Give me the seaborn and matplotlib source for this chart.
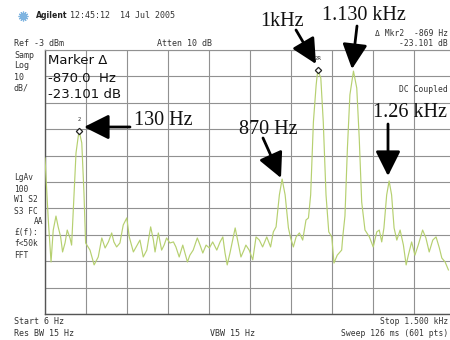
import numpy as np
import pandas as pd
import matplotlib
matplotlib.use("Agg")
import matplotlib.pyplot as plt
import seaborn as sns
from matplotlib.lines import Line2D

# ---- data ----
freq_hz = [6, 18, 28, 36, 46, 54, 63, 70, 79, 87, 97, 103, 109, 119, 130, 140, 148, 154,
           170, 185, 200, 213, 225, 237, 249, 257, 267, 279, 291, 304, 313, 328, 342, 352, 364,
           377, 391, 401, 407, 419, 431, 440, 449, 461, 474, 483, 495, 508, 525, 534, 546, 561,
           571, 581, 593, 605, 617, 632, 644, 654, 662, 670, 680, 690, 699, 710, 720, 731,
           738, 750, 763, 775, 787, 799, 814, 828, 838, 848, 860, 870, 881, 893, 901, 911, 921,
           933, 945, 957, 966, 974, 984, 994, 1000, 1011, 1020, 1030, 1040, 1051, 1059, 1071, 1087,
           1091, 1099, 1108, 1117, 1130, 1142, 1151, 1160, 1172, 1188, 1202, 1215, 1224, 1233,
           1241, 1251, 1260, 1269, 1278, 1288, 1300, 1312, 1322, 1330, 1342, 1354, 1366, 1382,
           1394, 1406, 1419, 1431, 1443, 1452, 1464, 1476]
level_dbm = [-43.9, -67.4, -83.3, -71.2, -65.9, -70.0, -73.8, -79.5, -76.1, -71.2, -74.2, -76.9,
             -63.6, -42.0, -33.5, -38.2, -57.2, -76.1,
             -78.8, -84.4, -81.4, -74.2, -78.0, -75.7, -72.3, -75.7, -77.6, -76.1, -69.3, -66.6,
             -73.8, -79.5, -76.9, -75.0, -81.4,
             -78.8, -70.0, -75.0, -79.5, -72.3, -78.8, -76.9, -74.2, -76.1, -75.7, -77.6, -81.4,
             -76.9, -83.3, -80.7, -78.8, -74.2,
             -76.9, -79.9, -76.9, -78.0, -75.7, -78.8, -75.7, -73.8, -79.9, -84.4, -79.9, -75.0,
             -70.4, -76.1, -81.4, -78.8,
             -76.9, -78.8, -82.5, -73.8, -75.0, -77.6, -73.8, -77.6, -71.9, -70.0, -57.9, -51.9,
             -57.9, -70.4, -74.2, -77.6, -73.8,
             -72.3, -75.0, -67.4, -66.6, -57.9, -30.3, -16.3, -10.5, -13.6, -30.3, -57.9, -71.9,
             -73.8, -83.7, -80.7, -78.8,
             -73.8, -65.9, -40.1, -20.0, -11.0, -17.4, -36.3, -60.6, -71.2, -73.8, -77.6, -71.9,
             -71.2, -75.7,
             -70.4, -57.9, -52.6, -57.9, -70.4, -75.0, -71.2, -76.9, -84.4, -80.7, -75.7, -80.7,
             -76.9, -71.2,
             -74.2, -79.5, -75.0, -73.8, -78.0, -81.8, -83.3, -86.3]

marker_freq = [130, 1000]
marker_level = [-33.5, -10.5]
marker_tags = ["2", "2R"]

start_hz, stop_hz = 6, 1500
ref_dbm, db_per_div = -3, 10

annot_labels = ["1kHz", "1.130 kHz", "130 Hz", "870 Hz", "1.26 kHz"]

# ---- figure ----
W, H = 450, 340
fig = plt.figure(figsize=(W / 100, H / 100), dpi=100)
fig.patch.set_facecolor("white")

def px(x, y):
    return (x / W, 1 - y / H)

ax = fig.add_axes([45 / W, 1 - 314 / H, 410 / W, 264 / H])
ax.set_facecolor("white")

df = pd.DataFrame({"f": freq_hz, "lvl": level_dbm})
sns.lineplot(data=df, x="f", y="lvl", ax=ax, color="#b6d070", lw=0.85, zorder=3)
ax.plot(marker_freq, marker_level, ls="none", marker="D", ms=3.2, mfc="white",
        mec="#222222", mew=0.9, zorder=4)
for f, l, t in zip(marker_freq, marker_level, marker_tags):
    ax.annotate(t, (f, l), xytext=(0, 6), textcoords="offset points", ha="center",
                va="bottom", fontsize=3.8, color="#333333", family="DejaVu Sans", zorder=5)

ax.set_xlim(start_hz, stop_hz)
ax.set_ylim(ref_dbm - 10 * db_per_div, ref_dbm)
ax.set_xticks(np.linspace(start_hz, stop_hz, 11))
ax.set_yticks(np.linspace(ref_dbm - 10 * db_per_div, ref_dbm, 11))
ax.tick_params(length=0, labelbottom=False, labelleft=False)
ax.grid(True, color="#919191", lw=0.8)
ax.set_axisbelow(True)
ax.set_xlabel("")
ax.set_ylabel("")
for s in ["left", "bottom"]:
    ax.spines[s].set_color("#555555")
    ax.spines[s].set_linewidth(1.0)
ax.spines["top"].set_color("#919191")
ax.spines["top"].set_linewidth(0.8)
ax.spines["right"].set_visible(False)

# ---- instrument annotations ----
mono = "DejaVu Sans Mono"
tc = "#333333"
fs = 6.0

def itext(x, y, s, **kw):
    kw.setdefault("fontsize", fs)
    kw.setdefault("family", mono)
    kw.setdefault("color", tc)
    kw.setdefault("va", "center")
    fig.text(*px(x, y), s, **kw)

# logo
fig.add_artist(Line2D([px(23, 16)[0]], [px(23, 16)[1]], marker=(12, 2, 0), ms=7,
                      mec="#7fb4e0", mew=0.9, transform=fig.transFigure))
itext(36, 16, "Agilent", family="DejaVu Sans", weight="bold", fontsize=5.6, color="#222222")
itext(70, 16, "12:45:12  14 Jul 2005", fontsize=6.0)

itext(14, 44, "Ref -3 dBm")
itext(157, 44, "Atten 10 dB")
itext(448, 33, "\u0394 Mkr2  -869 Hz", ha="right", fontsize=5.8)
itext(448, 44, "-23.101 dB", ha="right", fontsize=5.8)
for i, s in enumerate(["Samp", "Log", "10", "dB/"]):
    itext(14, 55 + 11 * i, s)
left_block = ["LgAv", "100", "W1 S2", "S3 FC", "", "\u00a3(f):", "f<50k", "FFT"]
for i, s in enumerate(left_block):
    itext(14, 178 + 11 * i, s, fontsize=5.7)
itext(43, 222, "AA", ha="right", fontsize=5.7)
itext(448, 90, "DC Coupled", ha="right", fontsize=5.8)
itext(14, 321, "Start 6 Hz")
itext(14, 334, "Res BW 15 Hz")
itext(210, 334, "VBW 15 Hz")
itext(448, 321, "Stop 1.500 kHz", ha="right", fontsize=5.8)
itext(448, 334, "Sweep 126 ms (601 pts)", ha="right", fontsize=5.8)

# marker readout
itext(48, 61, "Marker \u0394", fontsize=9.5, family="DejaVu Sans", color="#111111")
itext(48, 78, "-870.0  Hz", fontsize=9.5, family="DejaVu Sans", color="#111111")
itext(48, 94, "-23.101 dB", fontsize=9.5, family="DejaVu Sans", color="#111111")

# ---- callout arrows ----
serif = "Liberation Serif"
callouts = [
    # label, text pos, arrow tail, arrow tip (image pixels)
    (annot_labels[0], (282, 21), (296, 30), (316, 64)),
    (annot_labels[1], (364, 15), (357, 26), (352, 69)),
    (annot_labels[2], (163, 120), (130, 127), (84, 127)),
    (annot_labels[3], (268, 130), (263, 138), (281, 178)),
    (annot_labels[4], (410, 113), (388, 124), (388, 176)),
]
arrow_kw = dict(arrowstyle="-|>,head_length=0.8,head_width=0.4", mutation_scale=19,
                lw=2.0, color="black", shrinkA=0, shrinkB=0)
for lab, tpos, tail, tip in callouts:
    fig.text(*px(*tpos), lab, family=serif, fontsize=14.5, color="#111111",
             ha="center", va="center")
    fig.add_artist(matplotlib.patches.FancyArrowPatch(px(*tail), px(*tip),
                   transform=fig.transFigure, **arrow_kw))

fig.savefig("out.png", dpi=100, facecolor="white")
